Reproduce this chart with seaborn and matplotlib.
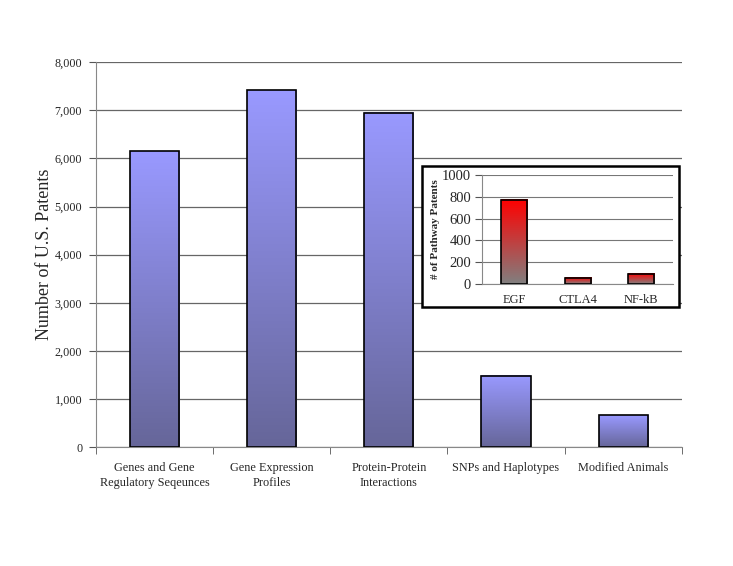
import numpy as np
import matplotlib
matplotlib.use("Agg")
import matplotlib.pyplot as plt
import matplotlib.colors as mcolors
from matplotlib.ticker import FuncFormatter, FixedLocator
from matplotlib.patches import Rectangle
import seaborn as sns

# Data
categories = ["Genes and Gene\nRegulatory Seqeunces", "Gene Expression\nProfiles",
              "Protein-Protein\nInteractions", "SNPs and Haplotypes", "Modified Animals"]
patents = [6150, 7420, 6950, 1480, 660]

pathways = ["EGF", "CTLA4", "NF-kB"]
pathway_patents = [770, 60, 95]

sns.set_style("white")
plt.rcParams["font.family"] = ["Liberation Serif", "DejaVu Serif"]


def gradient_bars(ax, top_color, bottom_color):
    cmap = mcolors.LinearSegmentedColormap.from_list("g", [bottom_color, top_color])
    grad = np.linspace(0, 1, 256).reshape(-1, 1)
    for p in ax.patches:
        x0, y0 = p.get_x(), p.get_y()
        w, h = p.get_width(), p.get_height()
        ax.imshow(grad, cmap=cmap, origin="lower", aspect="auto",
                  extent=[x0, x0 + w, y0, y0 + h], zorder=2)
        p.set_facecolor("none")
        p.set_edgecolor("black")
        p.set_linewidth(1.2)
        p.set_zorder(3)


fig = plt.figure(figsize=(7.33, 5.66), dpi=100)

# Main chart
ax = fig.add_axes([0.131, 0.210, 0.799, 0.680])
sns.barplot(x=categories, y=patents, ax=ax, width=0.42, color="#9999ff")
gradient_bars(ax, "#9999ff", "#666699")
ax.set_xlim(-0.5, len(categories) - 0.5)
ax.set_ylim(0, 8000)
ax.set_yticks(range(0, 8001, 1000))
ax.yaxis.set_major_formatter(FuncFormatter(lambda v, _: f"{int(v):,}"))
ax.yaxis.grid(True, color="#666666", linewidth=0.9)
ax.set_axisbelow(True)
for s in ["top", "right"]:
    ax.spines[s].set_visible(False)
ax.spines["left"].set_color("#888888")
ax.spines["bottom"].set_color("#888888")
ax.tick_params(axis="y", left=True, length=5, color="#555555", labelsize=8.7, pad=5)
ax.tick_params(axis="x", which="major", length=0, labelsize=8.8, pad=11)
ax.xaxis.set_minor_locator(FixedLocator(np.arange(-0.5, len(categories), 1.0)))
ax.tick_params(axis="x", which="minor", bottom=True, length=5, color="#555555")
ax.set_ylabel("Number of U.S. Patents", fontsize=13)
ax.yaxis.set_label_coords(-0.073, 0.5)
for lab in ax.get_xticklabels():
    lab.set_linespacing(1.25)

# Inset box
fig.patches.append(Rectangle((422 / 733, 1 - 307 / 566), 257 / 733, 141 / 566,
                             transform=fig.transFigure, facecolor="white",
                             edgecolor="black", linewidth=1.8, zorder=5))

ax2 = fig.add_axes([0.658, 0.498, 0.260, 0.193], zorder=6)
ax2.patch.set_alpha(0)
sns.barplot(x=pathways, y=pathway_patents, ax=ax2, width=0.41, color="red")
gradient_bars(ax2, "#ff0000", "#808080")
ax2.set_xlim(-0.5, len(pathways) - 0.5)
ax2.set_ylim(0, 1000)
ax2.set_yticks(range(0, 1001, 200))
ax2.yaxis.grid(True, color="#777777", linewidth=0.8)
ax2.set_axisbelow(True)
for s in ["top", "right"]:
    ax2.spines[s].set_visible(False)
ax2.spines["left"].set_color("#888888")
ax2.spines["bottom"].set_color("#888888")
ax2.tick_params(axis="y", left=True, length=5, color="#555555", labelsize=10.5, pad=3)
ax2.tick_params(axis="x", length=0, labelsize=9, pad=7)
ax2.set_ylabel("# of Pathway Patents", fontsize=8, fontweight="bold")
ax2.yaxis.set_label_coords(-0.22, 0.5)

fig.savefig("out.png", dpi=100)
